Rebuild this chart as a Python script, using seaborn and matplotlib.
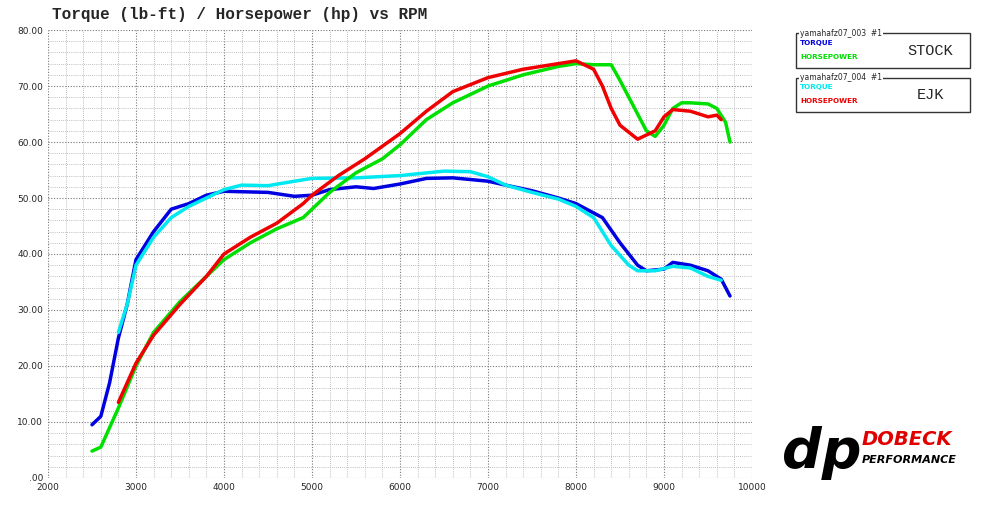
import matplotlib
matplotlib.use("Agg")
import matplotlib.pyplot as plt
import seaborn as sns
from matplotlib.patches import Rectangle

sns.set_theme(style="white")
plt.rcParams['font.family'] = ['DejaVu Sans']

rpm_st_tq = [2500,2600,2700,2800,2900,3000,3200,3400,3600,3800,4000,4500,4800,5000,5200,5500,5700,6000,6300,6600,7000,7200,7500,7800,8000,8300,8500,8700,8800,9000,9100,9300,9500,9650,9750]
st_tq = [9.5,11,17,25,31,39,44,48,49,50.5,51.2,51,50.3,50.5,51.5,52,51.7,52.5,53.5,53.6,53,52.3,51.3,50,49,46.5,42,38,37,37.3,38.5,38,37,35.5,32.5]
rpm_ejk_tq = [2800,2900,3000,3200,3400,3600,3800,4000,4200,4500,4800,5000,5500,6000,6500,6800,7000,7200,7500,7800,8000,8200,8400,8600,8700,8900,9100,9300,9500,9650]
ejk_tq = [26,31,38,43,46.5,48.5,50,51.5,52.3,52.2,53,53.5,53.6,54,54.8,54.7,53.8,52.3,51,49.8,48.5,46.5,41.5,38,37,37,37.8,37.5,36,35.3]
rpm_st_hp = [2500,2600,2700,2800,3000,3200,3500,3800,4000,4300,4600,4900,5000,5200,5500,5800,6000,6300,6600,7000,7400,7800,8000,8200,8400,8500,8700,8800,8900,9000,9100,9200,9300,9500,9600,9700,9750]
st_hp = [4.8,5.5,9,12.5,20,26,31.5,36,39,42,44.5,46.5,48,51,54.5,57,59.5,64,67,70,72,73.5,74,73.8,73.8,71,65,62,61,63,66,67,67,66.8,66,63.5,60]
rpm_ejk_hp = [2800,3000,3200,3500,3800,4000,4300,4600,4900,5000,5300,5600,6000,6300,6600,7000,7400,7800,8000,8200,8300,8400,8500,8700,8900,9000,9100,9300,9500,9600,9650]
ejk_hp = [13.5,20.5,25.5,31,36,40,43,45.5,49,50.5,54,57,61.5,65.5,69,71.5,73,74,74.5,73,70,66,63,60.5,62,64.5,65.8,65.5,64.5,64.8,64]

fig = plt.figure(figsize=(10, 5.09), dpi=100)
ax = fig.add_axes([0.048, 0.061, 0.704, 0.88])

for x, y, c in [(rpm_st_tq, st_tq, '#0000e0'), (rpm_ejk_tq, ejk_tq, '#00e8f0'),
                (rpm_st_hp, st_hp, '#00e000'), (rpm_ejk_hp, ejk_hp, '#f00000')]:
    sns.lineplot(x=x, y=y, ax=ax, color=c, lw=2.5)

ax.set_xlim(2000, 10000)
ax.set_ylim(0, 80)
ax.set_xticks(range(2000, 10001, 1000))
ax.set_yticks(range(0, 81, 10))
ax.set_yticklabels([f"{v:.2f}" if v else ".00" for v in range(0, 81, 10)])
ax.set_xticks(range(2000, 10001, 200), minor=True)
ax.set_yticks(range(0, 81, 2), minor=True)
ax.grid(which='major', color='#777777', ls=(0, (1, 1.5)), lw=0.8)
ax.grid(which='minor', color='#aaaaaa', ls=(0, (1, 1.5)), lw=0.6)
ax.tick_params(labelsize=6.5, length=0)
for s in ax.spines.values():
    s.set_visible(False)
ax.set_axisbelow(True)

fig.text(0.052, 0.972, "Torque (lb-ft) / Horsepower (hp) vs RPM", family='Liberation Mono',
         fontsize=11.5, fontweight='bold', va='center')

def box(y0, h, name, c1, c2, label):
    fig.patches.append(Rectangle((0.796, y0), 0.174, h, transform=fig.transFigure,
                                 fill=False, ec='#333333', lw=1))
    fig.text(0.8, y0 + h, f"yamaha{name}  #1", fontsize=5.5, va='center',
             bbox=dict(fc='white', ec='none', pad=0.5))
    fig.text(0.8, y0 + h * 0.72, "TORQUE", color=c1, fontsize=5.2, fontweight='bold', va='center')
    fig.text(0.8, y0 + h * 0.33, "HORSEPOWER", color=c2, fontsize=5.2, fontweight='bold', va='center')
    fig.text(0.93, y0 + h * 0.5, label, family='Liberation Mono', fontsize=11, ha='center', va='center')

box(0.866, 0.069, "fz07_003", '#0000e0', '#00e000', "STOCK")
box(0.780, 0.067, "fz07_004", '#00e8f0', '#f00000', "EJK")

fig.text(0.782, 0.11, "dp", fontsize=40, fontweight='bold', style='italic', color='black', va='center')
fig.text(0.862, 0.137, "DOBECK", fontsize=14, fontweight='bold', style='italic', color='#e00000', va='center')
fig.text(0.862, 0.097, "PERFORMANCE", fontsize=8, fontweight='bold', style='italic', color='black', va='center')

fig.savefig("out.png", dpi=100)
